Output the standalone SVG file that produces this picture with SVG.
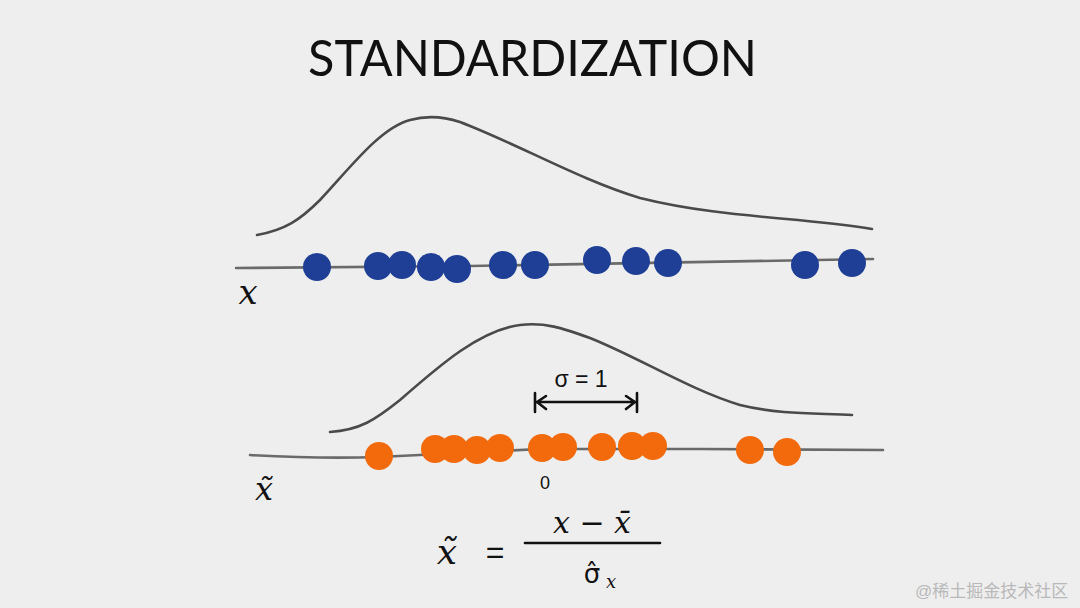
<svg xmlns="http://www.w3.org/2000/svg" width="1080" height="608" viewBox="0 0 1080 608">
  <style>
    .curve { fill: none; stroke: #4a4a4a; stroke-width: 2.6; stroke-linecap: round; stroke-linejoin: round; }
    .axis { fill: none; stroke: #6a6a6a; stroke-width: 2.6; stroke-linecap: round; }
    .blue { fill: #1e3f95; }
    .orange { fill: #f26a0c; }
    .hand { font-family: "Liberation Sans", "DejaVu Sans", sans-serif; fill: #111; }
    .title { font-family: Lato, "Open Sans", "Liberation Sans", sans-serif; font-weight: 400; fill: #111; }
    .math { font-family: "DejaVu Serif", "Liberation Serif", serif; font-style: italic; fill: #111; }
    .ink { fill: none; stroke: #111; stroke-width: 2.6; stroke-linecap: round; stroke-linejoin: round; }
  </style>
  <rect width="1080" height="608" fill="#eeeeee"/>

  <g id="title">
    <text class="title" x="308" y="76" font-size="51" textLength="449" lengthAdjust="spacingAndGlyphs">STANDARDIZATION</text>
  </g>

  <g id="original-distribution">
    <path class="curve" d="M257,235 C 285,230 300,220 320,200 C 350,168 380,128 410,120 C 428,115 445,117 460,122 C 520,145 580,180 640,198 C 720,218 800,217 872,229"/>
    <path class="axis" d="M236,268 L 470,266 L 873,259"/>
    <g class="blue">
      <circle cx="317" cy="267" r="14"/>
      <circle cx="378" cy="266" r="14"/>
      <circle cx="402" cy="265" r="14"/>
      <circle cx="431" cy="267" r="14"/>
      <circle cx="457" cy="269" r="14"/>
      <circle cx="503" cy="265" r="14"/>
      <circle cx="535" cy="265" r="14"/>
      <circle cx="597" cy="260" r="14"/>
      <circle cx="636" cy="261" r="14"/>
      <circle cx="668" cy="263" r="14"/>
      <circle cx="805" cy="265" r="14"/>
      <circle cx="852" cy="263" r="14"/>
    </g>
    <text class="math" x="248" y="304" font-size="34" text-anchor="middle">x</text>
  </g>

  <g id="standardized-distribution">
    <path class="curve" d="M330,432 C 360,430 375,420 400,400 C 440,365 480,330 520,325 C 545,322 562,328 590,338 C 640,358 690,390 740,405 C 780,415 820,413 852,415"/>
    <path class="axis" d="M250,455 Q 320,459 379,457 L 540,449 L 700,449 L 883,450"/>
    <g class="orange">
      <circle cx="379" cy="456" r="14"/>
      <circle cx="435" cy="449" r="14"/>
      <circle cx="454" cy="449" r="14"/>
      <circle cx="477" cy="450" r="14"/>
      <circle cx="500" cy="448" r="14"/>
      <circle cx="542" cy="448" r="14"/>
      <circle cx="563" cy="447" r="14"/>
      <circle cx="602" cy="447" r="14"/>
      <circle cx="632" cy="446" r="14"/>
      <circle cx="653" cy="446" r="14"/>
      <circle cx="750" cy="450" r="14"/>
      <circle cx="787" cy="452" r="14"/>
    </g>
    <text class="hand" x="545" y="489" font-size="18" text-anchor="middle">0</text>
    <text class="math" x="264" y="500" font-size="32" text-anchor="middle">x̃</text>
  </g>

  <g id="sigma-annotation">
    <text class="hand" x="581" y="387" font-size="23" text-anchor="middle">σ = 1</text>
    <path class="ink" d="M535,393 L 535,412 M 637,393 L 637,412 M 537,402 L 635,402 M 546,396 L 537,402 L 546,409 M 626,396 L 635,402 L 626,409" stroke-width="2.2"/>
  </g>

  <g id="formula">
    <text class="math" x="447" y="564" font-size="36" text-anchor="middle">x̃</text>
    <text class="hand" x="495" y="563" font-size="32" text-anchor="middle">=</text>
    <line class="ink" x1="525" y1="543" x2="660" y2="543"/>
    <text class="math" x="592" y="533" font-size="30" text-anchor="middle">x − x̄</text>
    <text x="592" y="583" font-size="26" text-anchor="middle" font-family="'DejaVu Sans', sans-serif" fill="#111">σ̂</text>
    <text class="math" x="611" y="588" font-size="18" text-anchor="middle">x</text>
  </g>

  <g id="watermark">
    <text x="915" y="597" font-size="17" fill="#b9b9b9" font-family="'Liberation Sans', 'Noto Sans CJK SC', sans-serif">@稀土掘金技术社区</text>
  </g>
</svg>
